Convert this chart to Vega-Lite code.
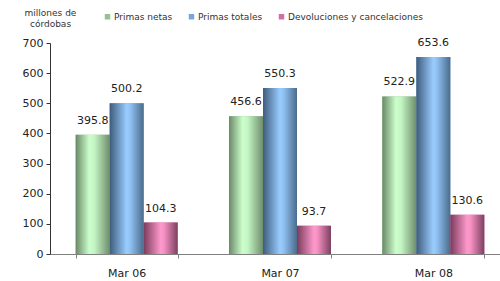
{
  "$schema": "https://vega.github.io/schema/vega-lite/v6.json",
  "width": 460,
  "height": 211,
  "padding": {"left": 22, "top": 8, "right": 0, "bottom": 5},
  "config": {
    "font": "DejaVu Sans",
    "view": {"stroke": null},
    "axis": {"labelFont": "DejaVu Sans", "titleFont": "DejaVu Sans", "labelColor": "#222", "grid": false}
  },
  "data": {
    "values": [
      {"mes": "Mar 06", "serie": "Primas netas", "valor": 395.8},
      {"mes": "Mar 06", "serie": "Primas totales", "valor": 500.2},
      {"mes": "Mar 06", "serie": "Devoluciones y cancelaciones", "valor": 104.3},
      {"mes": "Mar 07", "serie": "Primas netas", "valor": 456.6},
      {"mes": "Mar 07", "serie": "Primas totales", "valor": 550.3},
      {"mes": "Mar 07", "serie": "Devoluciones y cancelaciones", "valor": 93.7},
      {"mes": "Mar 08", "serie": "Primas netas", "valor": 522.9},
      {"mes": "Mar 08", "serie": "Primas totales", "valor": 653.6},
      {"mes": "Mar 08", "serie": "Devoluciones y cancelaciones", "valor": 130.6}
    ]
  },
  "encoding": {
    "x": {
      "field": "mes", "type": "nominal",
      "scale": {"paddingInner": 0.335, "paddingOuter": 0.1675},
      "axis": {"title": null, "labelAngle": 0, "labelFontSize": 11, "labelPadding": 9, "tickBand": "extent", "tickSize": 4, "domainColor": "#808080", "tickColor": "#808080", "labelColor": "#222"}
    },
    "xOffset": {
      "field": "serie", "type": "nominal",
      "scale": {"domain": ["Primas netas", "Primas totales", "Devoluciones y cancelaciones"], "paddingInner": 0, "paddingOuter": 0}
    },
    "y": {
      "field": "valor", "type": "quantitative",
      "scale": {"domain": [0, 700], "nice": false},
      "axis": {
        "values": [0, 100, 200, 300, 400, 500, 600, 700],
        "title": ["millones de", "córdobas"],
        "titleAngle": 0, "titleAlign": "center", "titleBaseline": "top",
        "titleX": 0, "titleY": -35, "titleFontSize": 9, "titleFontWeight": "normal", "titleColor": "#333", "titleLineHeight": 11,
        "labelFontSize": 11, "tickSize": 4, "domainColor": "#333", "tickColor": "#333", "labelPadding": 3
      }
    }
  },
  "layer": [
    {
      "mark": {"type": "bar"},
      "encoding": {
        "color": {
          "field": "serie", "type": "nominal",
          "scale": {"domain": ["Primas netas", "Primas totales", "Devoluciones y cancelaciones"], "range": ["#93c393", "#78a6d8", "#d16ea6"]},
          "legend": {
            "title": null, "orient": "none", "direction": "horizontal",
            "legendX": 53, "legendY": -31,
            "symbolType": "square", "symbolSize": 30, "symbolStrokeWidth": 0,
            "labelFontSize": 9, "labelColor": "#333", "labelOffset": 2, "columnPadding": 14, "labelFont": "DejaVu Sans"
          }
        }
      }
    },
    {
      "transform": [{"filter": "datum.serie == 'Primas netas'"}],
      "mark": {"type": "bar", "fill": {"gradient": "linear", "x1": 0, "x2": 1, "y1": 0, "y2": 0, "stops": [
        {"offset": 0, "color": "#6a8966"}, {"offset": 0.4, "color": "#ccffcc"}, {"offset": 0.55, "color": "#c4f5c4"}, {"offset": 1, "color": "#6e8e6b"}]}}
    },
    {
      "transform": [{"filter": "datum.serie == 'Primas totales'"}],
      "mark": {"type": "bar", "fill": {"gradient": "linear", "x1": 0, "x2": 1, "y1": 0, "y2": 0, "stops": [
        {"offset": 0, "color": "#3e5c7c"}, {"offset": 0.5, "color": "#99ccff"}, {"offset": 0.6, "color": "#90c2f4"}, {"offset": 1, "color": "#4b6b8b"}]}}
    },
    {
      "transform": [{"filter": "datum.serie == 'Devoluciones y cancelaciones'"}],
      "mark": {"type": "bar", "fill": {"gradient": "linear", "x1": 0, "x2": 1, "y1": 0, "y2": 0, "stops": [
        {"offset": 0, "color": "#7a3b5b"}, {"offset": 0.5, "color": "#ff99cc"}, {"offset": 0.6, "color": "#f591c3"}, {"offset": 1, "color": "#7c4060"}]}}
    },
    {
      "mark": {"type": "text", "fontSize": 11, "baseline": "alphabetic", "dy": -11, "color": "#222"},
      "encoding": {"text": {"field": "valor", "type": "quantitative", "format": ".1f"}}
    }
  ]
}
